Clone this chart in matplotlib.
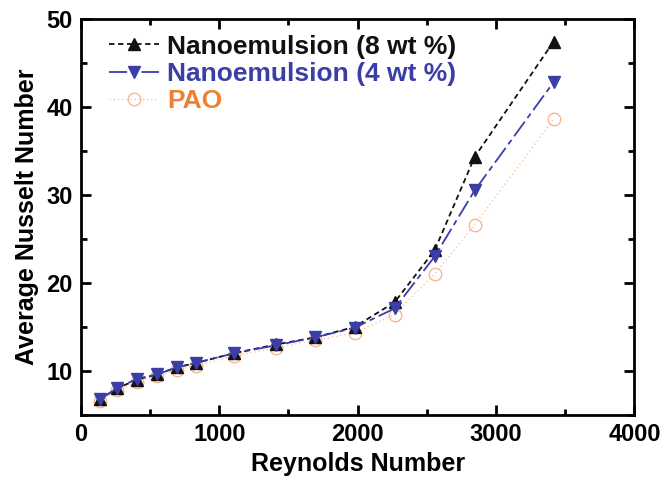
import matplotlib
matplotlib.use("Agg")
import matplotlib.pyplot as plt
from matplotlib.ticker import MultipleLocator

# Reynolds numbers of the measurement points
reynolds = [140, 260, 404, 549, 693, 830, 1105, 1408, 1690, 1978, 2267, 2556, 2845, 3415]

# average Nusselt number for each fluid
nu_8wt = [6.8, 8.0, 9.0, 9.6, 10.4, 10.9, 12.0, 13.0, 13.8, 15.0, 17.8, 23.7, 34.3, 47.4]
nu_4wt = [6.8, 8.0, 9.1, 9.6, 10.4, 10.9, 12.0, 12.9, 13.8, 14.9, 17.1, 23.0, 30.5, 42.8]
nu_pao = [6.6, 7.8, 8.7, 9.4, 10.1, 10.6, 11.7, 12.6, 13.5, 14.3, 16.4, 21.0, 26.6, 38.6]

labels = ["Nanoemulsion (8 wt %)", "Nanoemulsion (4 wt %)", "PAO"]
text_colors = ["#111111", "#3b3ea6", "#f08030"]

plt.rcParams["font.family"] = ["Liberation Sans", "DejaVu Sans"]
plt.rcParams["font.weight"] = "bold"

fig = plt.figure(figsize=(6.63, 4.83), dpi=100)
ax = fig.add_axes([0.122, 0.141, 0.835, 0.82])

ax.plot(reynolds, nu_pao, linestyle=(0, (1, 2)), color="#f5c9a8", linewidth=1.0,
        marker="o", markersize=9, markerfacecolor="none", markeredgecolor="#f5b890",
        markeredgewidth=1.0, label=labels[2], zorder=2)
ax.plot(reynolds, nu_4wt, linestyle=(0, (10, 2.5, 3, 2.5)), color="#3b3ea6", linewidth=1.3,
        marker="v", markersize=9, markerfacecolor="#3b3ea6", markeredgecolor="#3b3ea6",
        label=labels[1], zorder=3)
ax.plot(reynolds, nu_8wt, linestyle=(0, (3, 2)), color="#111111", linewidth=1.3,
        marker="^", markersize=9, markerfacecolor="#111111", markeredgecolor="#111111",
        label=labels[0], zorder=2.5)

ax.set_xlim(0, 4000)
ax.set_ylim(5, 50)
ax.xaxis.set_major_locator(MultipleLocator(1000))
ax.xaxis.set_minor_locator(MultipleLocator(500))
ax.yaxis.set_major_locator(MultipleLocator(10))
ax.yaxis.set_minor_locator(MultipleLocator(5))
ax.set_yticks([10, 20, 30, 40, 50])
ax.tick_params(which="both", direction="in", top=True, right=True, width=2,
               labelsize=17, pad=6)
ax.tick_params(which="major", length=7)
ax.tick_params(which="minor", length=4)
for sp in ax.spines.values():
    sp.set_linewidth(2)

ax.set_xlabel("Reynolds Number", fontsize=18, fontweight="bold", labelpad=4)
ax.set_ylabel("Average Nusselt Number", fontsize=18, fontweight="bold", labelpad=5)

handles, labs = ax.get_legend_handles_labels()
order = [2, 1, 0]
leg = ax.legend([handles[i] for i in order], [labs[i] for i in order],
                loc="upper left", bbox_to_anchor=(0.022, 1.0), frameon=False,
                fontsize=19, handlelength=1.9, handletextpad=0.3,
                labelspacing=0.12, borderaxespad=0.2)
for t, c in zip(leg.get_texts(), text_colors):
    t.set_color(c)
    t.set_fontweight("bold")

fig.savefig("out.png", dpi=100)
